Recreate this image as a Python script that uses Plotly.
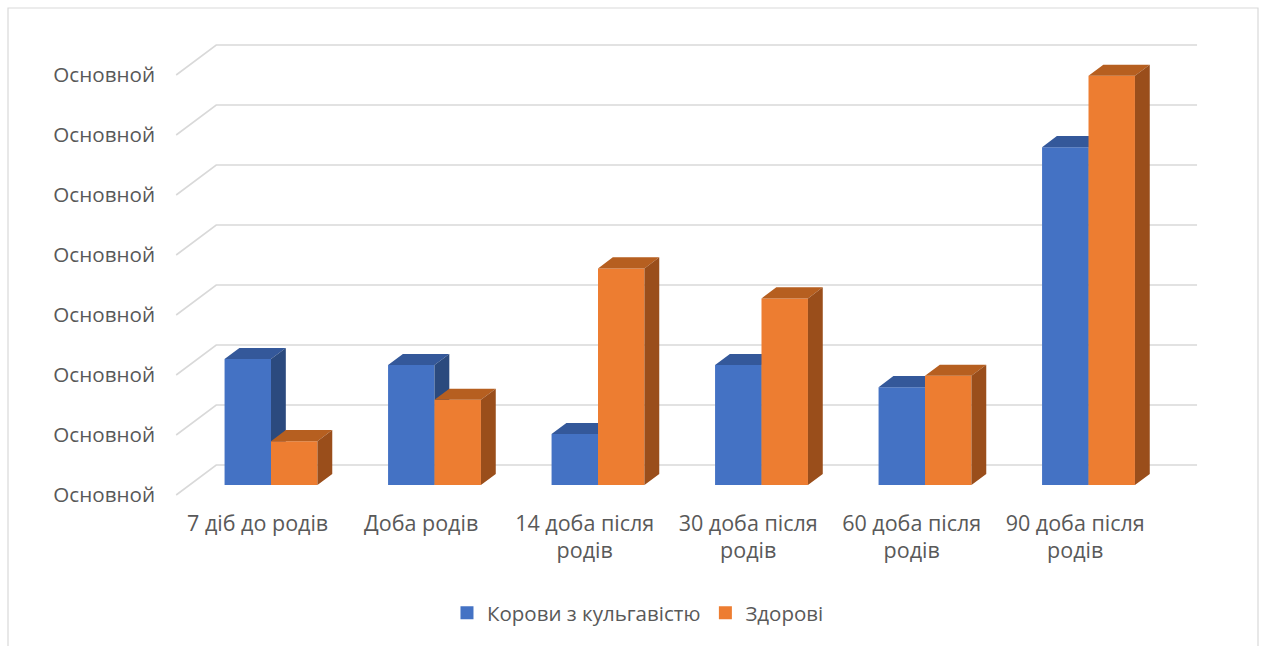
import plotly.graph_objects as go

# Data
categories = ["7 діб до родів", "Доба родів", "14 доба після<br>родів",
              "30 доба після<br>родів", "60 доба після<br>родів", "90 доба після<br>родів"]
lame = [2.1, 2.0, 0.85, 2.0, 1.63, 5.63]
healthy = [0.73, 1.42, 3.61, 3.11, 1.82, 6.82]
series_names = ["Корови з кульгавістю", "Здорові"]
grid_values = [0, 1, 2, 3, 4, 5, 6, 7]
tick_label = "Основной"

# Pseudo-3D geometry (x in category units, y in value units)
BAR_W = 0.284            # width of one column front face
DEPTH_DX = 0.245         # floor depth projected on x
DEPTH_DY = 0.5           # floor depth projected on y
BAR_FRONT = 1 / 3        # depth fraction where columns start
BAR_DEPTH = 0.37         # column depth as fraction of floor depth
WALL_LEFT = -0.58        # front-left corner of the floor
WALL_RIGHT = 5.664       # right end of the back wall

TEXT = "#595959"
GRID = "#D9D9D9"
FONT = "Open Sans"

colors = {
    0: dict(front="#4472C4", top="#34589A", side="#2B4A7E"),
    1: dict(front="#ED7D31", top="#B65F20", side="#9A4E1B"),
}

fig = go.Figure()

# Back wall gridlines with slanted floor-side segment
for k in grid_values:
    y_front = k - BAR_FRONT * DEPTH_DY
    y_back = k + (1 - BAR_FRONT) * DEPTH_DY
    fig.add_trace(go.Scatter(
        x=[WALL_LEFT, WALL_LEFT + DEPTH_DX, WALL_RIGHT],
        y=[y_front, y_back, y_back],
        mode="lines", line=dict(color=GRID, width=1.6),
        hoverinfo="skip", showlegend=False))

ddx = BAR_DEPTH * DEPTH_DX
ddy = BAR_DEPTH * DEPTH_DY


def faces(values, offset):
    front_x, front_y, top_x, top_y, side_x, side_y = [], [], [], [], [], []
    for i, v in enumerate(values):
        x0 = i + offset
        x1 = x0 + BAR_W
        front_x += [x0, x1, x1, x0, x0, None]
        front_y += [0, 0, v, v, 0, None]
        top_x += [x0, x1, x1 + ddx, x0 + ddx, x0, None]
        top_y += [v, v, v + ddy, v + ddy, v, None]
        side_x += [x1, x1 + ddx, x1 + ddx, x1, x1, None]
        side_y += [0, ddy, v + ddy, v, 0, None]
    return (front_x, front_y), (top_x, top_y), (side_x, side_y)


for s, (values, offset) in enumerate([(lame, -BAR_W), (healthy, 0.0)]):
    front, top, side = faces(values, offset)
    c = colors[s]
    for (xs, ys), col in [(front, c["front"]), (top, c["top"]), (side, c["side"])]:
        fig.add_trace(go.Scatter(
            x=xs, y=ys, mode="lines", fill="toself", fillcolor=col,
            line=dict(width=0, color=col), hoverinfo="skip",
            showlegend=False, legendgroup=str(s)))
    # legend entry
    fig.add_trace(go.Scatter(
        x=[None], y=[None], mode="markers", name=series_names[s],
        marker=dict(symbol="square", size=13, color=c["front"]),
        legendgroup=str(s)))

tick_y = [k - BAR_FRONT * DEPTH_DY for k in grid_values]
tick_x = [i - BAR_FRONT * DEPTH_DX for i in range(len(categories))]

# Chart border
fig.add_shape(type="rect", xref="paper", yref="paper",
              x0=(8 - 160) / 1045, x1=(1258 - 160) / 1045,
              y0=(500 - 660) / 470, y1=(500 - 8) / 470,
              line=dict(color=GRID, width=1.2), fillcolor="rgba(0,0,0,0)")

fig.update_layout(
    width=1266, height=646,
    margin=dict(l=160, r=61, t=30, b=146),
    paper_bgcolor="white", plot_bgcolor="white",
    font=dict(family=FONT, color=TEXT, size=20),
    showlegend=True,
    legend=dict(orientation="h", x=0.4574, xanchor="center",
                y=-0.24, yanchor="middle", font=dict(size=20.5, color=TEXT),
                itemclick=False, itemdoubleclick=False),
    xaxis=dict(range=[-0.6789, 5.7125], showgrid=False, zeroline=False,
               showline=False, tickmode="array", tickvals=tick_x,
               ticktext=categories, ticks="", fixedrange=True,
               ticklabelstandoff=8,
               tickfont=dict(size=21.5, color=TEXT)),
    yaxis=dict(range=[-0.25, 7.5833], showgrid=False, zeroline=False,
               showline=False, tickmode="array", tickvals=tick_y,
               ticktext=[tick_label] * len(grid_values), ticks="",
               ticklabelstandoff=4, fixedrange=True,
               tickfont=dict(size=20.6, color=TEXT)),
)

fig.write_html("out.html")
